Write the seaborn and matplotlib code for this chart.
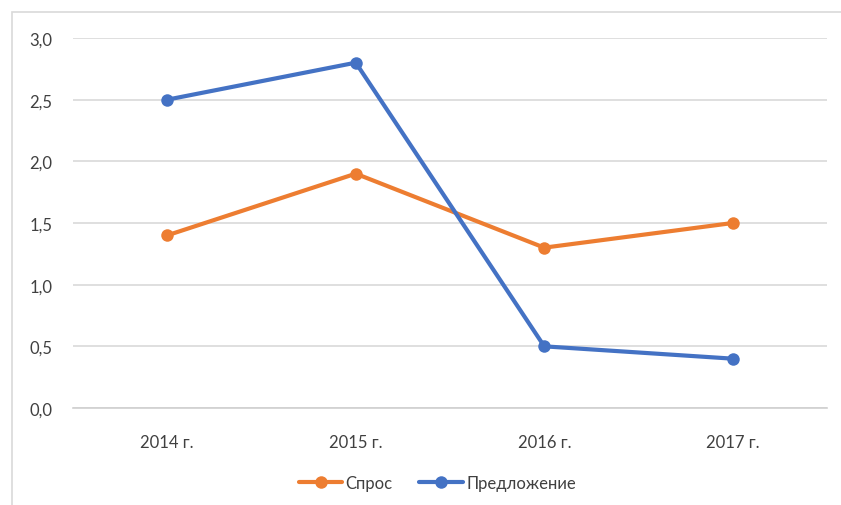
import matplotlib
matplotlib.use("Agg")
import matplotlib.pyplot as plt
import seaborn as sns
import pandas as pd
from matplotlib.patches import Rectangle

years = ["2014 г.", "2015 г.", "2016 г.", "2017 г."]
demand = [1.4, 1.9, 1.3, 1.5]
supply = [2.5, 2.8, 0.5, 0.4]
series_names = ["Спрос", "Предложение"]
yticks = [0.0, 0.5, 1.0, 1.5, 2.0, 2.5, 3.0]

df = pd.DataFrame({
    "year": years * 2,
    "value": demand + supply,
    "series": [series_names[0]] * 4 + [series_names[1]] * 4,
})

sns.set_style("white")
plt.rcParams["font.family"] = ["Lato", "DejaVu Sans"]

fig = plt.figure(figsize=(8.41, 5.06), dpi=100)
ax = fig.add_axes([73/841, 1-409/506, (827-73)/841, (409-39)/506])

# outer chart border
fig.patches.append(Rectangle((12/841, -0.2), 2, 1.2 - 13/506,
                             transform=fig.transFigure, fill=False,
                             edgecolor="#D9D9D9", linewidth=1.2, zorder=0))

palette = {"Спрос": "#ED7D31", "Предложение": "#4472C4"}
sns.lineplot(data=df, x="year", y="value", hue="series", palette=palette,
             marker="o", markersize=9, markeredgewidth=0, linewidth=3,
             sort=False, ax=ax, legend=True, zorder=3)

ax.set_xlim(-0.5, 3.5)
ax.set_ylim(0, 3.0)
ax.set_yticks(yticks)
ax.set_yticklabels([f"{v:.1f}".replace(".", ",") for v in yticks])
ax.set_xlabel("")
ax.set_ylabel("")
ax.grid(axis="y", color="#D9D9D9", linewidth=1.2, zorder=0)
ax.grid(axis="x", visible=False)
for s in ["top", "right", "left"]:
    ax.spines[s].set_visible(False)
ax.spines["bottom"].set_color("#D0D0D0")
ax.spines["bottom"].set_linewidth(1.2)
ax.tick_params(axis="both", length=0, labelsize=12, colors="#404040")
ax.tick_params(axis="y", pad=15)
ax.tick_params(axis="x", pad=19)

ax.get_legend().remove()
handles, labels = ax.get_legend_handles_labels()
fig.legend(handles, labels, loc="center", bbox_to_anchor=(0.52, 1-484/506),
           ncol=2, frameon=False, fontsize=12, handlelength=2.6,
           columnspacing=1.6, handletextpad=0.2, labelcolor="#404040")

fig.savefig("out.png", dpi=100)
